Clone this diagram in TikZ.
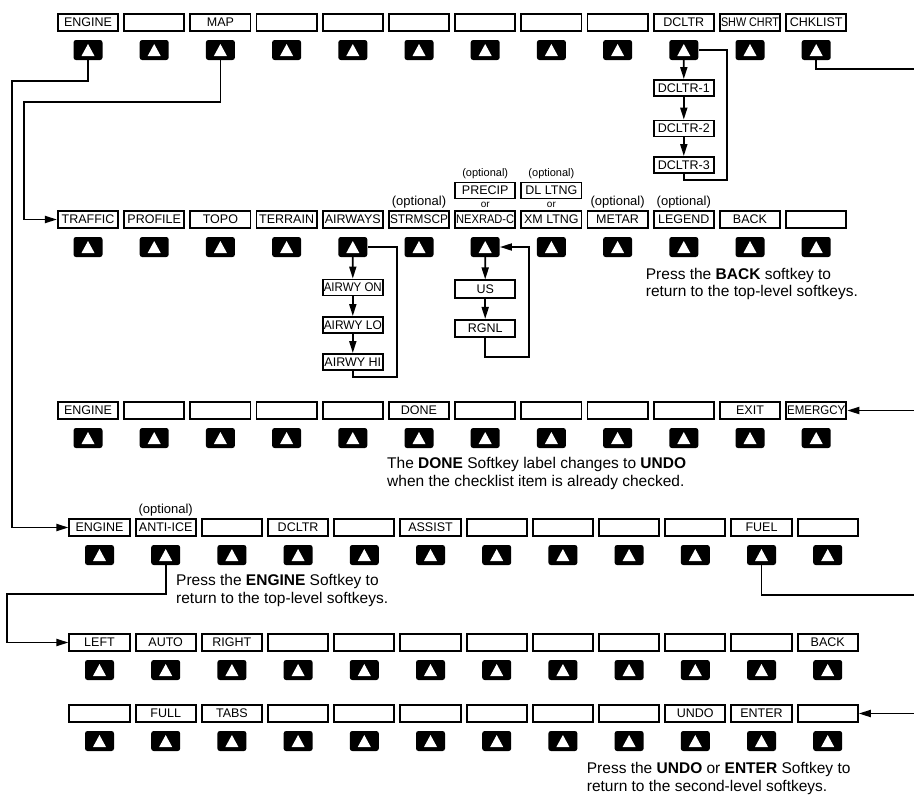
\documentclass[tikz,border=0pt]{standalone}
\usepackage{fontspec}
\setmainfont{Liberation Sans}
\usepackage{graphicx}
\usetikzlibrary{arrows.meta, positioning}

\newsavebox\labbox
% squeeze a label that is wider than its box
\newcommand\fitlab[1]{\sbox\labbox{#1}%
  \ifdim\wd\labbox>58pt\resizebox{58pt}{\height}{\usebox\labbox}\else\usebox\labbox\fi}
% one row of softkey labels with their keys
\newcommand\softrow[4]{%
  \foreach \lbl [count=\c] in {#4} {
    \node[lab] (b#1c\c) at ({#2+(\c-1)*66.2},{#3}) {\fitlab{\lbl}};
    \node[softkey] (k#1c\c) at ({#2+(\c-1)*66.2},{#3+27.5}) {};
  }}

\begin{document}
\begin{tikzpicture}[x=1pt, y=-1pt,
  lab/.style={draw, line width=1.9pt, minimum width=60.2pt, minimum height=17.2pt,
    inner sep=0pt, font=\fontsize{12.5}{14}\selectfont},
  subkey/.style={lab, minimum height=16pt},
  softkey/.style={fill=black, rounded corners=2.5pt, minimum width=29pt,
    minimum height=20pt, inner sep=0pt,
    path picture={\fill[white, sharp corners]
      ([shift={(-6.5pt,-6pt)}]path picture bounding box.center)
      -- ++(13pt,0pt) -- ++(-6.5pt,12pt) -- cycle;}},
  wire/.style={line width=1.8pt},
  wirearr/.style={wire, -{Triangle[length=12pt,width=7pt]}},
  opt/.style={font=\fontsize{13}{15}\selectfont, inner sep=0pt},
  smallopt/.style={font=\fontsize{11}{13}\selectfont, inner sep=0pt},
  ortext/.style={font=\fontsize{10}{12}\selectfont, inner sep=0pt},
  note/.style={font=\fontsize{15.5}{17.4}\selectfont, align=left,
    inner sep=0pt, anchor=north west}]
  \useasboundingbox (0,0) rectangle (914,796);

  \softrow{1}{88}{22.5}{ENGINE,{},MAP,{},{},{},{},{},{},DCLTR,SHW CHRT,CHKLIST}
  \softrow{2}{88}{219.5}{TRAFFIC,PROFILE,TOPO,TERRAIN,AIRWAYS,STRMSCP,NEXRAD-C,XM LTNG,METAR,LEGEND,BACK,{}}
  \softrow{3}{88}{410.5}{ENGINE,{},{},{},{},DONE,{},{},{},{},EXIT,EMERGCY}
  \softrow{4}{99.5}{527.5}{ENGINE,ANTI-ICE,{},DCLTR,{},ASSIST,{},{},{},{},FUEL,{}}
  \softrow{5}{99.5}{642.5}{LEFT,AUTO,RIGHT,{},{},{},{},{},{},{},{},BACK}
  \softrow{6}{99.5}{713.5}{{},FULL,TABS,{},{},{},{},{},{},UNDO,ENTER,{}}

  % optional softkeys
  \foreach \c in {6,9,10} \node[opt, above=2pt of b2c\c] (opt\c) {(optional)};
  \node[opt, above=2pt of b4c2] (optai) {(optional)};
  \node[subkey] (precip) at (485.2,190.5) {PRECIP};
  \node[subkey] (dlltng) at (551.4,190.5) {DL LTNG};
  \node[smallopt, above=3pt of precip] (optpr) {(optional)};
  \node[smallopt, above=3pt of dlltng] (optdl) {(optional)};
  \node[ortext, below=2pt of precip] (orpr) {or};
  \node[ortext, below=2pt of dlltng] (ordl) {or};

  % declutter levels
  \node[subkey] (dc1) at (683.8,88) {DCLTR-1};
  \node[subkey] (dc2) at (683.8,128.5) {DCLTR-2};
  \node[subkey] (dc3) at (683.8,165) {DCLTR-3};
  \draw[wirearr] (k1c10.south) -- (dc1.north);
  \draw[wirearr] (dc1.south) -- (dc2.north);
  \draw[wirearr] (dc2.south) -- (dc3.north);
  \draw[wire] (dc3.south) |- (727,180) |- (k1c10.east);

  % airways
  \node[subkey] (aw1) at (352.8,287.5) {\fitlab{AIRWY ON}};
  \node[subkey] (aw2) at (352.8,325) {\fitlab{AIRWY LO}};
  \node[subkey] (aw3) at (352.8,362) {\fitlab{AIRWY HI}};
  \draw[wirearr] (k2c5.south) -- (aw1.north);
  \draw[wirearr] (aw1.south) -- (aw2.north);
  \draw[wirearr] (aw2.south) -- (aw3.north);
  \draw[wire] (aw3.south) |- (396.7,376.7) |- (k2c5.east);

  % nexrad coverage
  \node[subkey, minimum height=17.2pt] (us) at (485.2,289) {US};
  \node[subkey, minimum height=17.2pt] (rgnl) at (485.2,328.5) {RGNL};
  \draw[wirearr] (k2c7.south) -- (us.north);
  \draw[wirearr] (us.south) -- (rgnl.north);
  \draw[wirearr] (rgnl.south) |- (529,356.7) |- (k2c7.east);

  % level changes
  \draw[wirearr] (k1c1.south) |- (12.3,80.7) |- (b4c1.west);
  \draw[wirearr] (k1c3.south) |- (24,102.3) |- (b2c1.west);
  \draw[wirearr] (k4c2.south) |- (7.3,594) |- (b5c1.west);
  \coordinate (chkout) at (914,69);
  \coordinate (chkin) at (914,410.5);
  \coordinate (fuelout) at (914,595);
  \coordinate (fuelin) at (914,713.5);
  \draw[wire] (k1c12.south) |- (chkout);
  \draw[wirearr] (chkin) -- (b3c12.east);
  \draw[wire] (k4c11.south) |- (fuelout);
  \draw[wirearr] (fuelin) -- (b6c12.east);

  % notes
  \node[note] (backnote) at (645.7,268) {Press the \textbf{BACK} softkey to\\return to the top-level softkeys.};
  \node[note] (donenote) at (387,457.5) {The \textbf{DONE} Softkey label changes to \textbf{UNDO}\\when the checklist item is already checked.};
  \node[note] (engnote) at (176,574.5) {Press the \textbf{ENGINE} Softkey to\\return to the top-level softkeys.};
  \node[note] (undonote) at (586.7,762.5) {Press the \textbf{UNDO} or \textbf{ENTER} Softkey to\\return to the second-level softkeys.};
\end{tikzpicture}
\end{document}
